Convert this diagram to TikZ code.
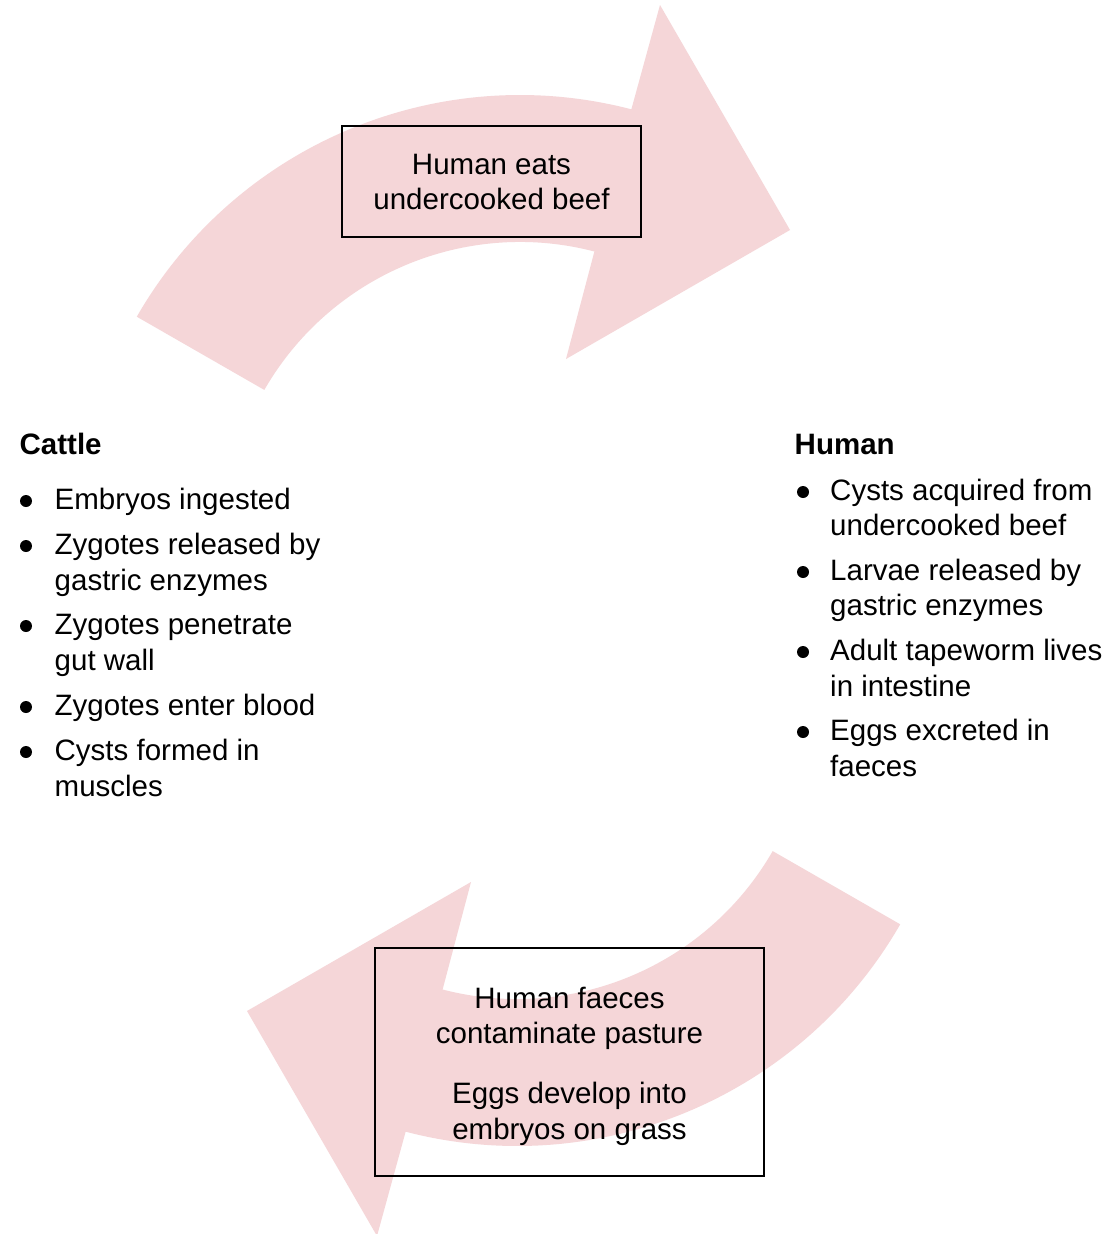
\documentclass[tikz,border=0pt]{standalone}
\usepackage{fontspec}
\setmainfont{Liberation Sans}
\definecolor{arrowpink}{RGB}{245,214,216}
\begin{document}
\begin{tikzpicture}[x=1pt,y=-1pt,
  txt/.style={inner sep=0pt, font=\fontsize{29.5}{35.5}\selectfont},
  lefttxt/.style={txt, anchor=base west},
  ctxt/.style={txt, anchor=base},
  headtxt/.style={inner sep=0pt, anchor=base west, font=\fontsize{29.5}{35.5}\selectfont\bfseries},
  dot/.style={circle, fill=black, inner sep=0pt, minimum size=12pt},
  stagebox/.style={draw=black, line width=1.4pt, rectangle, inner sep=0pt},
  bigarrow/.style={fill=arrowpink}
]
\useasboundingbox (0,0) rectangle (1112,1234);
\fill[white] (0,0) rectangle (1112,1234);

% top curved arrow
\fill[bigarrow] (136.8,316.7) arc[start angle=209.9, end angle=284.6, radius=442]
  -- (660,5) -- (790,230) -- (566,359) -- (594.4,251.5)
  arc[start angle=284.6, end angle=209.9, radius=295] -- cycle;

% bottom curved arrow (same shape turned half round)
\begin{scope}[rotate around={180:(518.5,620.5)}]
\fill[bigarrow] (136.8,316.7) arc[start angle=209.9, end angle=284.6, radius=442]
  -- (660,5) -- (790,230) -- (566,359) -- (594.4,251.5)
  arc[start angle=284.6, end angle=209.9, radius=295] -- cycle;
\end{scope}

% top box
\node[stagebox, minimum width=299pt, minimum height=111pt] (eatbox) at (491.5,181.5) {};
\node[ctxt] (eatA) at (491.5,174) {Human eats};
\node[ctxt] (eatB) at (491.5,209) {undercooked beef};

% bottom box
\node[stagebox, minimum width=389pt, minimum height=228pt] (faecesbox) at (569.5,1062) {};
\node[ctxt] (fA) at (569.5,1008) {Human faeces};
\node[ctxt] (fB) at (569.5,1043) {contaminate pasture};
\node[ctxt] (fC) at (569.5,1103) {Eggs develop into};
\node[ctxt] (fD) at (569.5,1139) {embryos on grass};

% cattle list
\node[headtxt] (cattle) at (19.5,454) {Cattle};
\node[dot] (cb1) at (26,501) {};
\node[lefttxt] (c1) at (54.5,509) {Embryos ingested};
\node[dot] (cb2) at (26,546) {};
\node[lefttxt] (c2a) at (54.5,554) {Zygotes released by};
\node[lefttxt] (c2b) at (54.5,590) {gastric enzymes};
\node[dot] (cb3) at (26,626) {};
\node[lefttxt] (c3a) at (54.5,634) {Zygotes penetrate};
\node[lefttxt] (c3b) at (54.5,670) {gut wall};
\node[dot] (cb4) at (26,707) {};
\node[lefttxt] (c4) at (54.5,715) {Zygotes enter blood};
\node[dot] (cb5) at (26,752) {};
\node[lefttxt] (c5a) at (54.5,760) {Cysts formed in};
\node[lefttxt] (c5b) at (54.5,796) {muscles};

% human list
\node[headtxt] (human) at (794.5,454) {Human};
\node[dot] (hb1) at (803,492) {};
\node[lefttxt] (h1a) at (830,500) {Cysts acquired from};
\node[lefttxt] (h1b) at (830,535) {undercooked beef};
\node[dot] (hb2) at (803,572) {};
\node[lefttxt] (h2a) at (830,580) {Larvae released by};
\node[lefttxt] (h2b) at (830,615) {gastric enzymes};
\node[dot] (hb3) at (803,652) {};
\node[lefttxt] (h3a) at (830,660) {Adult tapeworm lives};
\node[lefttxt] (h3b) at (830,696) {in intestine};
\node[dot] (hb4) at (803,732) {};
\node[lefttxt] (h4a) at (830,740) {Eggs excreted in};
\node[lefttxt] (h4b) at (830,776) {faeces};
\end{tikzpicture}
\end{document}
